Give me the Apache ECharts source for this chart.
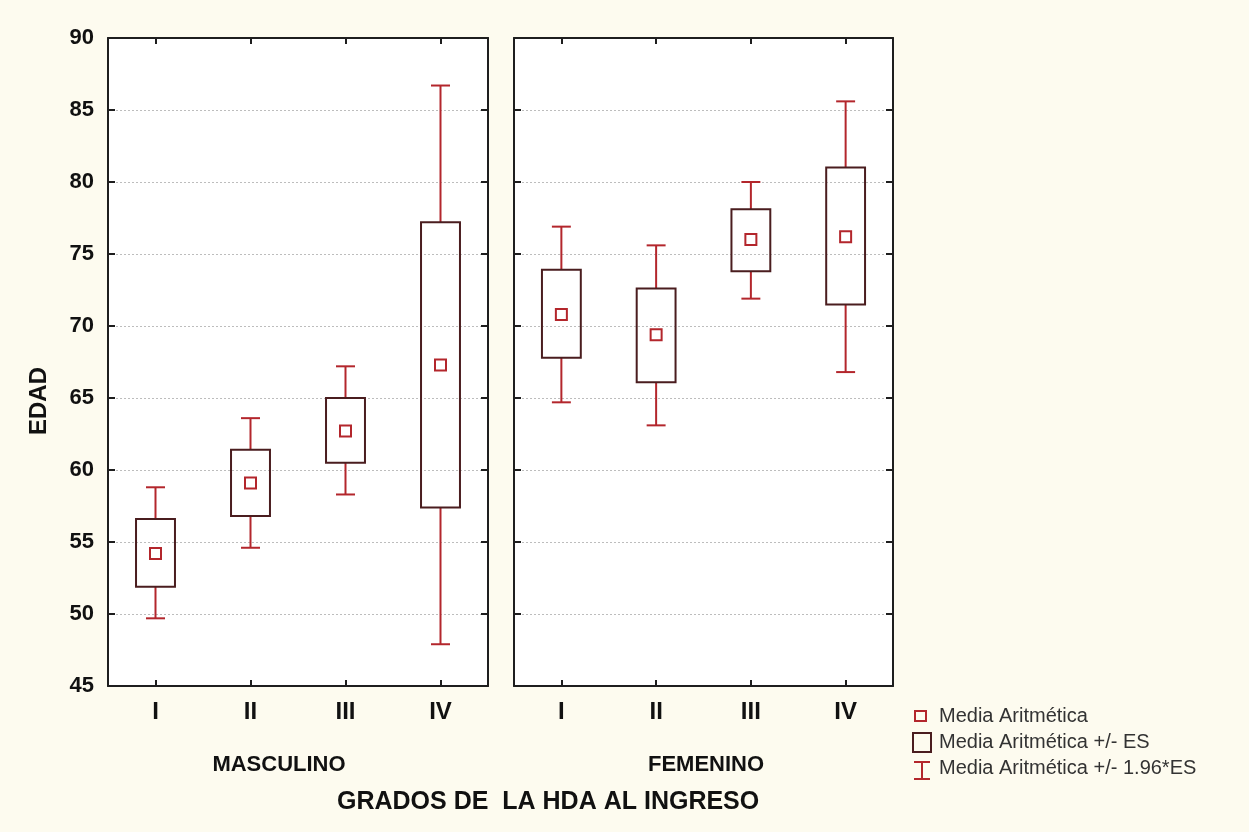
<!DOCTYPE html>
<html>
<head>
<meta charset="utf-8">
<script src="https://cdn.jsdelivr.net/npm/echarts@6/dist/echarts.min.js"></script>
<style>
html,body{margin:0;padding:0;background:#fdfbef;}
#main{width:1249px;height:832px;}
</style>
</head>
<body>
<div id="main"></div>
<script>
// ---- data ----
const categories = ['I', 'II', 'III', 'IV'];
const groups = ['MASCULINO', 'FEMENINO'];
const yTicks = [45, 50, 55, 60, 65, 70, 75, 80, 85, 90];

const mascMean   = [54.2, 59.1, 62.7, 67.3];
const mascSeLow  = [51.9, 56.8, 60.5, 57.4];
const mascSeHigh = [56.6, 61.4, 65.0, 77.2];
const mascCiLow  = [49.7, 54.6, 58.3, 47.9];
const mascCiHigh = [58.8, 63.6, 67.2, 86.7];

const femMean   = [70.8, 69.4, 76.0, 76.2];
const femSeLow  = [67.8, 66.1, 73.8, 71.5];
const femSeHigh = [73.9, 72.6, 78.1, 81.0];
const femCiLow  = [64.7, 63.1, 71.9, 66.8];
const femCiHigh = [76.9, 75.6, 80.0, 85.6];

const legendLabels = ['Media Aritmética', 'Media Aritmética +/- ES', 'Media Aritmética +/- 1.96*ES'];
const xTitle = 'GRADOS DE  LA HDA AL INGRESO';
const yTitle = 'EDAD';

// ---- styles ----
const RED = '#b3262c';
const BOX = '#4a1d1f';
const FRAME = '#1e1e1e';
const FONT = '"Liberation Sans", Arial, sans-serif';

function buildRows(mean, seL, seH, ciL, ciH) {
  return categories.map((c, i) => [i, mean[i], seL[i], seH[i], ciL[i], ciH[i]]);
}

function renderItem(params, api) {
  const idx = api.value(0);
  const band = api.size([1, 0])[0];
  const boxW = band * 0.41;
  const capW = band * 0.2;
  const pMean = api.coord([idx, api.value(1)]);
  const pSeL = api.coord([idx, api.value(2)]);
  const pSeH = api.coord([idx, api.value(3)]);
  const pCiL = api.coord([idx, api.value(4)]);
  const pCiH = api.coord([idx, api.value(5)]);
  const x = pMean[0];
  const wStyle = {stroke: RED, lineWidth: 2};
  const m = 5.5;
  return {
    type: 'group',
    children: [
      {type: 'line', shape: {x1: x, y1: pCiH[1], x2: x, y2: pSeH[1]}, style: wStyle},
      {type: 'line', shape: {x1: x, y1: pSeL[1], x2: x, y2: pCiL[1]}, style: wStyle},
      {type: 'line', shape: {x1: x - capW / 2, y1: pCiH[1], x2: x + capW / 2, y2: pCiH[1]}, style: wStyle},
      {type: 'line', shape: {x1: x - capW / 2, y1: pCiL[1], x2: x + capW / 2, y2: pCiL[1]}, style: wStyle},
      {type: 'rect', shape: {x: x - boxW / 2, y: pSeH[1], width: boxW, height: pSeL[1] - pSeH[1]},
        style: {fill: 'none', stroke: BOX, lineWidth: 2}},
      {type: 'rect', shape: {x: x - m, y: pMean[1] - m, width: 2 * m, height: 2 * m},
        style: {fill: 'none', stroke: RED, lineWidth: 2}}
    ]
  };
}

const chart = echarts.init(document.getElementById('main'));

const gridDefs = [
  {left: 108, top: 38, width: 380, height: 648},
  {left: 514, top: 38, width: 379, height: 648}
];
const groupCenters = [279, 706];

const xAxes = [];
const yAxes = [];
gridDefs.forEach((g, gi) => {
  xAxes.push({
    type: 'category', gridIndex: gi, data: categories, position: 'bottom',
    axisLine: {show: true, lineStyle: {color: FRAME, width: 2}},
    axisTick: {show: true, inside: true, alignWithLabel: true, length: 6, lineStyle: {color: FRAME, width: 2}},
    axisLabel: {color: '#111', fontSize: 24, fontWeight: 'bold', fontFamily: FONT, margin: 14}
  });
  xAxes.push({
    type: 'category', gridIndex: gi, data: categories, position: 'top',
    axisLine: {show: true, lineStyle: {color: FRAME, width: 2}},
    axisTick: {show: true, inside: true, alignWithLabel: true, length: 6, lineStyle: {color: FRAME, width: 2}},
    axisLabel: {show: false}
  });
  yAxes.push({
    type: 'value', gridIndex: gi, min: 45, max: 90, interval: 5, position: 'left',
    axisLine: {show: true, lineStyle: {color: FRAME, width: 2}},
    axisTick: {show: true, inside: true, length: 7, lineStyle: {color: FRAME, width: 2}},
    axisLabel: {show: gi === 0, color: '#111', fontSize: 22, fontWeight: 'bold', fontFamily: FONT, margin: 14,
      formatter: v => yTicks.indexOf(v) >= 0 ? String(v) : ''},
    splitLine: {show: true, lineStyle: {color: '#bdbdbd', type: [2, 2], width: 1}}
  });
  yAxes.push({
    type: 'value', gridIndex: gi, min: 45, max: 90, interval: 5, position: 'right',
    axisLine: {show: true, lineStyle: {color: FRAME, width: 2}},
    axisTick: {show: true, inside: true, length: 7, lineStyle: {color: FRAME, width: 2}},
    axisLabel: {show: false},
    splitLine: {show: false}
  });
});

const lx = 912;
const rows = [716, 742, 768];
const legendFont = '20px ' + FONT;
const graphics = [
  {type: 'text', x: 337, y: 802, style: {text: xTitle, fill: '#111', font: 'bold 25px ' + FONT, verticalAlign: 'middle'}},
  {type: 'text', x: 39, y: 401, rotation: Math.PI / 2,
    style: {text: yTitle, fill: '#111', font: 'bold 24px ' + FONT, align: 'center', verticalAlign: 'middle'}},
  // legend
  {type: 'rect', shape: {x: lx + 3, y: rows[0] - 5, width: 11, height: 10}, style: {fill: 'none', stroke: RED, lineWidth: 2}},
  {type: 'text', x: lx + 27, y: rows[0], style: {text: legendLabels[0], fill: '#333', font: legendFont, verticalAlign: 'middle'}},
  {type: 'rect', shape: {x: lx + 1, y: rows[1] - 9, width: 18, height: 19}, style: {fill: 'none', stroke: BOX, lineWidth: 2}},
  {type: 'text', x: lx + 27, y: rows[1], style: {text: legendLabels[1], fill: '#333', font: legendFont, verticalAlign: 'middle'}},
  {type: 'line', shape: {x1: lx + 2, y1: rows[2] - 6, x2: lx + 18, y2: rows[2] - 6}, style: {stroke: RED, lineWidth: 2}},
  {type: 'line', shape: {x1: lx + 10, y1: rows[2] - 6, x2: lx + 10, y2: rows[2] + 11}, style: {stroke: RED, lineWidth: 2}},
  {type: 'line', shape: {x1: lx + 2, y1: rows[2] + 11, x2: lx + 18, y2: rows[2] + 11}, style: {stroke: RED, lineWidth: 2}},
  {type: 'text', x: lx + 27, y: rows[2], style: {text: legendLabels[2], fill: '#333', font: legendFont, verticalAlign: 'middle'}}
];
groups.forEach((g, i) => {
  graphics.push({type: 'text', x: groupCenters[i], y: 765,
    style: {text: g, fill: '#111', font: 'bold 22px ' + FONT, align: 'center', verticalAlign: 'middle'}});
});

chart.setOption({
  backgroundColor: '#fdfbef',
  animation: false,
  grid: gridDefs.map(g => Object.assign({show: true, backgroundColor: '#ffffff', borderWidth: 0}, g)),
  xAxis: xAxes,
  yAxis: yAxes,
  series: [
    {type: 'custom', xAxisIndex: 0, yAxisIndex: 0, renderItem: renderItem,
      data: buildRows(mascMean, mascSeLow, mascSeHigh, mascCiLow, mascCiHigh)},
    {type: 'custom', xAxisIndex: 2, yAxisIndex: 2, renderItem: renderItem,
      data: buildRows(femMean, femSeLow, femSeHigh, femCiLow, femCiHigh)}
  ],
  graphic: graphics
});
</script>
</body>
</html>
